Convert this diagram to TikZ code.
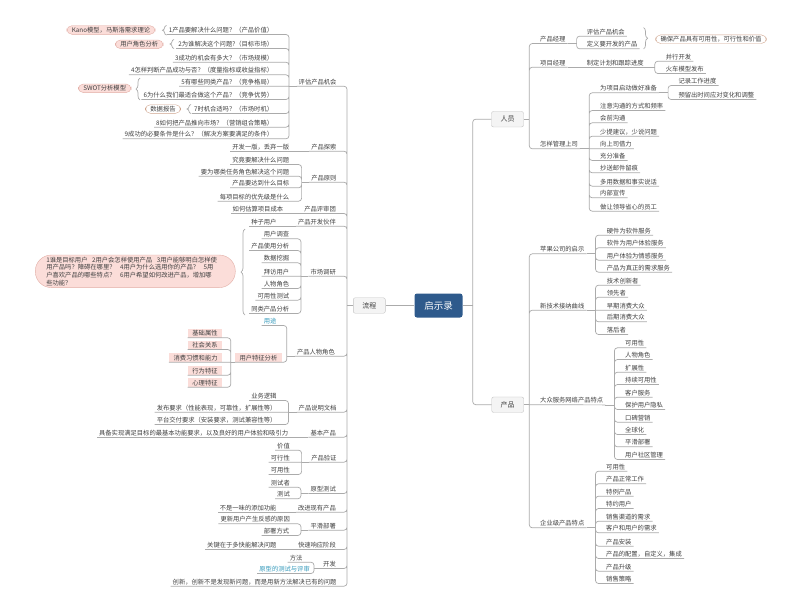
\documentclass[tikz,border=0pt]{standalone}
\usepackage{fontspec}
\setmainfont{Noto Sans CJK SC}
\usepackage{tikz}
\usetikzlibrary{positioning, decorations.pathreplacing}

\definecolor{linegray}{HTML}{ABABAB}
\definecolor{txtgray}{HTML}{404040}
\definecolor{rootblue}{HTML}{2E5A8C}
\definecolor{boxfill}{HTML}{F4F4F4}
\definecolor{boxline}{HTML}{C4C4C4}
\definecolor{pinkfill}{HTML}{FBDDD9}
\definecolor{pinkline}{HTML}{E2AEA6}
\definecolor{tanline}{HTML}{CFA48C}
\definecolor{linkteal}{HTML}{3399BB}
\newcommand\tpfont{\fontsize{6.3}{7.7}\selectfont}

\begin{document}
\begin{tikzpicture}[x=1pt, y=-1pt,
    topic/.style={font=\tpfont, text=txtgray, inner xsep=2pt, inner ysep=1.2pt, text height=5.4pt, text depth=0.8pt},
    lt/.style={topic, anchor=east},
    rt/.style={topic, anchor=west},
    hl/.style={lt, fill=pinkfill, inner xsep=4.5pt},
    pill/.style={draw=pinkline, fill=pinkfill, rounded corners=5pt, font=\tpfont, text=txtgray},
    summ/.style={pill, inner xsep=5pt, inner ysep=1.2pt, text height=5.4pt, text depth=0.8pt},
    summw/.style={summ, draw=tanline, fill=white},
    main/.style={draw=boxline, fill=boxfill, rounded corners=2pt, font=\fontsize{7}{8}\selectfont, text=txtgray, minimum width=32pt, minimum height=15.5pt},
    root/.style={fill=rootblue, rounded corners=2.5pt, font=\fontsize{9.5}{11}\selectfont, text=white, minimum width=48pt, minimum height=24pt},
    conn/.style={draw=linegray, line width=0.7pt, rounded corners=3pt},
    brc/.style={draw=linegray, line width=0.7pt, decorate, decoration={brace, amplitude=4pt}}
]
    \path[use as bounding box, fill=white] (0,0) rectangle (800,603);

    % Center and main branches
    \node[root] (root) at (438.5,305.5) {启示录};
    \node[main] (ppl) at (507.5,119.2) {人员};
    \node[main] (prod) at (507.7,404.7) {产品};
    \node[main] (flow) at (369.3,305.5) {流程};

    % 流程: first level
    \node[lt] (ev) at (338.7,81.7) {评估产品机会};
    \node[lt] (ex) at (338.7,146.7) {产品探索};
    \node[lt] (pr) at (338.7,177.7) {产品原则};
    \node[lt] (rv) at (338,209) {产品评审团};
    \node[lt] (pt) at (338,221.7) {产品开发伙伴};
    \node[lt] (mr) at (338,271.7) {市场调研};
    \node[lt] (pe) at (337,351.7) {产品人物角色};
    \node[lt] (sd) at (338.7,407.7) {产品说明文档};
    \node[lt] (bp) at (338,432.7) {基本产品};
    \node[lt] (vf) at (338.7,457.7) {产品验证};
    \node[lt] (pp) at (338,489) {原型测试};
    \node[lt] (im) at (338,507.7) {改进现有产品};
    \node[lt] (sm) at (338,525.7) {平滑部署};
    \node[lt] (fr) at (338,545) {快速响应阶段};
    \node[lt] (dv) at (338,564) {开发};
    \node[lt] (nv) at (338.7,581.7) {创新，创新不是发现新问题，而是用新方法解决已有的问题};

    % 评估产品机会
    \node[lt] (e1) at (275.3,30) {1产品要解决什么问题？（产品价值）};
    \node[lt] (e2) at (275.3,44) {2为谁解决这个问题?（目标市场）};
    \node[lt] (e3) at (275.3,57.7) {3成功的机会有多大？（市场规模）};
    \node[lt] (e4) at (275.3,70.3) {4怎样判断产品成功与否？（度量指标或收益指标）};
    \node[lt] (e5) at (275.3,81.7) {5有哪些同类产品？（竞争格局）};
    \node[lt] (e6) at (275.3,95) {6为什么我们最适合做这个产品？（竞争优势）};
    \node[lt] (e7) at (275.3,109) {7时机合适吗？（市场时机）};
    \node[lt] (e8) at (275.3,122.7) {8如何把产品推向市场？（营销组合策略）};
    \node[lt] (e9) at (275.3,134.3) {9成功的必要条件是什么？（解决方案要满足的条件）};
    \node[summ] (kano) at (111,30) {Kano模型，马斯洛需求理论};
    \node[summ] (role) at (139.2,44.3) {用户角色分析};
    \node[summ] (swot) at (104.7,88.3) {SWOT分析模型};
    \node[summw] (data) at (163,109) {数据报告};
    \draw[brc] (166.5,35) -- (166.5,25.5);
    \draw[brc] (174,48.5) -- (174,39.5);
    \draw[brc] (140,100) -- (140,78);
    \draw[brc] (191,113.5) -- (191,104.5);

    % 产品探索, 产品原则, 产品评审团, 产品开发伙伴
    \node[lt] (x1) at (291.3,146.7) {开发一版，丢弃一版};
    \node[lt] (p1) at (291.3,160) {究竟要解决什么问题};
    \node[lt] (p2) at (291.3,171.7) {要为哪类任务角色解决这个问题};
    \node[lt] (p3) at (291.3,183.3) {产品要达到什么目标};
    \node[lt] (p4) at (291.3,196.7) {每项目标的优先级是什么};
    \node[lt] (r1) at (285.3,209) {如何估算项目成本};
    \node[lt] (t1) at (278.7,221.7) {种子用户};

    % 市场调研
    \node[lt] (m1) at (291.3,234.3) {用户调查};
    \node[lt] (m2) at (291.3,246) {产品使用分析};
    \node[lt] (m3) at (291.3,258.3) {数据挖掘};
    \node[lt] (m4) at (291.3,271.7) {拜访用户};
    \node[lt] (m5) at (291.3,284) {人物角色};
    \node[lt] (m6) at (291.3,295.7) {可用性测试};
    \node[lt] (m7) at (291.3,309) {同类产品分析};
    \node[pill, rounded corners=16pt, text width=178pt, align=left, inner xsep=11pt, inner ysep=1.8pt] (why) at (135.3,271.3)
        {1谁是目标用户\kern4.5pt 2用户会怎样使用产品\kern4.5pt 3用户能够明白怎样使\\
         用产品吗？障碍在哪里？\kern4.5pt 4用户为什么选用你的产品？\kern4.5pt 5用\\
         户喜欢产品的哪些特点？\kern4.5pt 6用户希望如何改进产品，增加哪\\
         些功能？};
    \draw[brc] (245,315) -- (245,229);

    % 产品人物角色
    \node[lt, text=linkteal] (u1) at (278.7,321) {用途};
    \node[hl] (u2) at (282,357.7) {用户特征分析};
    \node[hl] (c1) at (222.3,333.3) {基础属性};
    \node[hl] (c2) at (222.3,345) {社会关系};
    \node[hl] (c3) at (222.3,357.7) {消费习惯和能力};
    \node[hl] (c4) at (222.3,370.7) {行为特征};
    \node[hl] (c5) at (222.3,382.7) {心理特征};

    % 产品说明文档 to 开发
    \node[lt] (s1) at (278.7,396) {业务逻辑};
    \node[lt] (s2) at (278.7,407.7) {发布要求（性能表现，可靠性，扩展性等）};
    \node[lt] (s3) at (278.7,420) {平台交付要求（安装要求，测试兼容性等）};
    \node[lt] (b1) at (290.3,432.7) {具备实现满足目标的最基本功能要求，以及良好的用户体验和吸引力};
    \node[lt] (v1) at (292,445.7) {价值};
    \node[lt] (v2) at (292,457.7) {可行性};
    \node[lt] (v3) at (292,470) {可用性};
    \node[lt] (q1) at (292,482.7) {测试者};
    \node[lt] (q2) at (292,494.3) {测试};
    \node[lt] (i1) at (278.7,507.7) {不是一味的添加功能};
    \node[lt] (h1) at (292,519.3) {更新用户产生反感的原因};
    \node[lt] (h2) at (291.3,531) {部署方式};
    \node[lt] (f1) at (278.7,545) {关键在于多快能解决问题};
    \node[lt] (d1) at (304.7,557.7) {方法};
    \node[lt, text=linkteal] (d2) at (312,569) {原型的测试与评审};

    % 人员
    \node[rt] (pm) at (538,39) {产品经理};
    \node[rt] (proj) at (538,62.7) {项目经理};
    \node[rt] (mb) at (538,144.3) {怎样管理上司};
    \node[rt] (a1) at (584.7,31.7) {评估产品机会};
    \node[rt] (a2) at (584.7,44.3) {定义要开发的产品};
    \node[summw] (sure) at (711,39.2) {确保产品具有可用性，可行性和价值};
    \draw[brc] (643.5,27.5) -- (643.5,49);
    \node[rt] (g1) at (584.7,62.7) {制定计划和跟踪进度};
    \node[rt] (g2) at (663.7,56.7) {并行开发};
    \node[rt] (g3) at (663.7,69) {火车模型发布};
    \node[rt] (k1) at (598,88.3) {为项目启动做好准备};
    \node[rt] (k1a) at (676.3,81) {记录工作进度};
    \node[rt] (k1b) at (676.3,95) {预留出时间应对变化和调整};
    \node[rt] (k2) at (598,106) {注意沟通的方式和频率};
    \node[rt] (k3) at (598,118.3) {会前沟通};
    \node[rt] (k4) at (598,131.7) {少提建议，少说问题};
    \node[rt] (k5) at (598,144.3) {向上司借力};
    \node[rt] (k6) at (598,156) {充分准备};
    \node[rt] (k7) at (598,168.3) {抄送邮件留痕};
    \node[rt] (k8) at (598,181.7) {多用数据和事实说话};
    \node[rt] (k9) at (598,193.3) {内部宣传};
    \node[rt] (k10) at (598,206.7) {做让领导省心的员工};

    % 产品
    \node[rt] (ap) at (538,249.3) {苹果公司的启示};
    \node[rt] (tc) at (538,305.7) {新技术接纳曲线};
    \node[rt] (ws) at (538,400.4) {大众服务网络产品特点};
    \node[rt] (ep) at (538,523.3) {企业级产品特点};
    \node[rt] (ap1) at (604.7,230.7) {硬件为软件服务};
    \node[rt] (ap2) at (604.7,243.3) {软件为用户体验服务};
    \node[rt] (ap3) at (604.7,255.7) {用户体验为情感服务};
    \node[rt] (ap4) at (604.7,267.7) {产品为真正的需求服务};
    \node[rt] (tc1) at (604.7,280.7) {技术创新者};
    \node[rt] (tc2) at (604.7,292.7) {领先者};
    \node[rt] (tc3) at (604.7,305.7) {早期消费大众};
    \node[rt] (tc4) at (604.7,317.3) {后期消费大众};
    \node[rt] (tc5) at (604.7,330) {落后者};
    \node[rt] (ws1) at (623,343.3) {可用性};
    \node[rt] (ws2) at (623,355) {人物角色};
    \node[rt] (ws3) at (623,367.7) {扩展性};
    \node[rt] (ws4) at (623,380) {持续可用性};
    \node[rt] (ws5) at (623,392.7) {客户服务};
    \node[rt] (ws6) at (623,405) {保护用户隐私};
    \node[rt] (ws7) at (623,417.7) {口碑营销};
    \node[rt] (ws8) at (623,430) {全球化};
    \node[rt] (ws9) at (623,442.3) {平滑部署};
    \node[rt] (ws10) at (623,455) {用户社区管理};
    \node[rt] (ep1) at (604,466.7) {可用性};
    \node[rt] (ep2) at (604,479.3) {产品正常工作};
    \node[rt] (ep3) at (604,491.7) {特例产品};
    \node[rt] (ep4) at (604,504) {特约用户};
    \node[rt] (ep5) at (604,516.7) {销售渠道的需求};
    \node[rt] (ep6) at (604,528.3) {客户和用户的需求};
    \node[rt] (ep7) at (604,541.7) {产品安装};
    \node[rt] (ep8) at (604,554) {产品的配置，自定义，集成};
    \node[rt] (ep9) at (604,566.7) {产品升级};
    \node[rt] (ep10) at (604,579) {销售策略};

    % Connectors: center
    \coordinate (jroot) at (472.7,305.5);
    \draw[conn] (root.east) -- (jroot);
    \draw[conn] (jroot) |- (ppl.west) (jroot) |- (prod.west);
    \draw[conn] (flow.east) -- (root.west);

    % Connectors: 流程
    \coordinate (jflow) at (347,305.5);
    \draw[conn] (flow.west) -- (jflow);
    \draw[conn] (jflow) |- (ev.south west) (jflow) |- (ex.south west) (jflow) |- (pr.south west)
        (jflow) |- (rv.south west) (jflow) |- (pt.south west) (jflow) |- (mr.south west)
        (jflow) |- (pe.south west) (jflow) |- (sd.south west) (jflow) |- (bp.south west)
        (jflow) |- (vf.south west) (jflow) |- (pp.south west) (jflow) |- (im.south west)
        (jflow) |- (sm.south west) (jflow) |- (fr.south west) (jflow) |- (dv.south west)
        (jflow) |- (nv.south west);
    \draw[conn] (ev.south west) -- ++(-7.5,0) coordinate (jev);
    \draw[conn] (jev) |- (e1.south west) (jev) |- (e2.south west) (jev) |- (e3.south west)
        (jev) |- (e4.south west) (jev) -- (e5.south west) (jev) |- (e6.south west)
        (jev) |- (e7.south west) (jev) |- (e8.south west) (jev) |- (e9.south west);
    \draw[conn] (ex.south west) -- (x1.south west);
    \draw[conn] (pr.south west) -- ++(-7.5,0) coordinate (jpr);
    \draw[conn] (jpr) |- (p1.south west) (jpr) |- (p2.south west) (jpr) |- (p3.south west) (jpr) |- (p4.south west);
    \draw[conn] (rv.south west) -- (r1.south west);
    \draw[conn] (pt.south west) -- (t1.south west);
    \draw[conn] (mr.south west) -- ++(-7.5,0) coordinate (jmr);
    \draw[conn] (jmr) |- (m1.south west) (jmr) |- (m2.south west) (jmr) |- (m3.south west)
        (jmr) -- (m4.south west) (jmr) |- (m5.south west) (jmr) |- (m6.south west) (jmr) |- (m7.south west);
    \draw[conn] (pe.south west) -- ++(-8,0) coordinate (jpe);
    \draw[conn] (jpe) |- (u1.south west) (jpe) |- (u2.south west);
    \draw[conn] (u2.south west) -- ++(-4,0) coordinate (ju2);
    \draw[conn] (ju2) |- (c1.south west) (ju2) |- (c2.south west) (ju2) -- (c3.south west)
        (ju2) |- (c4.south west) (ju2) |- (c5.south west);
    \draw[conn] (sd.south west) -- ++(-8,0) coordinate (jsd);
    \draw[conn] (jsd) |- (s1.south west) (jsd) -- (s2.south west) (jsd) |- (s3.south west);
    \draw[conn] (bp.south west) -- (b1.south west);
    \draw[conn] (vf.south west) -- ++(-7.5,0) coordinate (jvf);
    \draw[conn] (jvf) |- (v1.south west) (jvf) -- (v2.south west) (jvf) |- (v3.south west);
    \draw[conn] (pp.south west) -- ++(-7.5,0) coordinate (jpp);
    \draw[conn] (jpp) |- (q1.south west) (jpp) |- (q2.south west);
    \draw[conn] (im.south west) -- (i1.south west);
    \draw[conn] (sm.south west) -- ++(-7.5,0) coordinate (jsm);
    \draw[conn] (jsm) |- (h1.south west) (jsm) |- (h2.south west);
    \draw[conn] (fr.south west) -- (f1.south west);
    \draw[conn] (dv.south west) -- ++(-7,0) coordinate (jdv);
    \draw[conn] (jdv) |- (d1.south west) (jdv) |- (d2.south west);

    % Connectors: 人员
    \coordinate (jppl) at (529.3,119.2);
    \draw[conn] (ppl.east) -- (jppl);
    \draw[conn] (jppl) |- (pm.south east) (jppl) |- (proj.south east) (jppl) |- (mb.south east);
    \draw[conn] (pm.south east) -- ++(9,0) coordinate (jpm);
    \draw[conn] (jpm) |- (a1.south east) (jpm) |- (a2.south east);
    \draw[conn] (proj.south east) -- (g1.south east);
    \draw[conn] (g1.south east) -- ++(9,0) coordinate (jg1);
    \draw[conn] (jg1) |- (g2.south east) (jg1) |- (g3.south east);
    \draw[conn] (mb.south east) -- ++(9,0) coordinate (jmb);
    \draw[conn] (jmb) |- (k1.south east) (jmb) |- (k2.south east) (jmb) |- (k3.south east)
        (jmb) |- (k4.south east) (jmb) -- (k5.south east) (jmb) |- (k6.south east)
        (jmb) |- (k7.south east) (jmb) |- (k8.south east) (jmb) |- (k9.south east) (jmb) |- (k10.south east);
    \draw[conn] (k1.south east) -- ++(9,0) coordinate (jk1);
    \draw[conn] (jk1) |- (k1a.south east) (jk1) |- (k1b.south east);

    % Connectors: 产品
    \coordinate (jprod) at (529.3,404.7);
    \draw[conn] (prod.east) -- (jprod);
    \draw[conn] (jprod) |- (ap.south east) (jprod) |- (tc.south east) (jprod) -- (ws.south east) (jprod) |- (ep.south east);
    \draw[conn] (ap.south east) -- ++(9,0) coordinate (jap);
    \draw[conn] (jap) |- (ap1.south east) (jap) |- (ap2.south east) (jap) |- (ap3.south east) (jap) |- (ap4.south east);
    \draw[conn] (tc.south east) -- ++(9,0) coordinate (jtc);
    \draw[conn] (jtc) |- (tc1.south east) (jtc) |- (tc2.south east) (jtc) -- (tc3.south east)
        (jtc) |- (tc4.south east) (jtc) |- (tc5.south east);
    \draw[conn] (ws.south east) -- ++(9,0) coordinate (jws);
    \draw[conn] (jws) |- (ws1.south east) (jws) |- (ws2.south east) (jws) |- (ws3.south east)
        (jws) |- (ws4.south east) (jws) |- (ws5.south east) (jws) |- (ws6.south east)
        (jws) |- (ws7.south east) (jws) |- (ws8.south east) (jws) |- (ws9.south east) (jws) |- (ws10.south east);
    \draw[conn] (ep.south east) -- ++(9,0) coordinate (jep);
    \draw[conn] (jep) |- (ep1.south east) (jep) |- (ep2.south east) (jep) |- (ep3.south east)
        (jep) |- (ep4.south east) (jep) |- (ep5.south east) (jep) |- (ep6.south east)
        (jep) |- (ep7.south east) (jep) |- (ep8.south east) (jep) |- (ep9.south east) (jep) |- (ep10.south east);
\end{tikzpicture}
\end{document}
